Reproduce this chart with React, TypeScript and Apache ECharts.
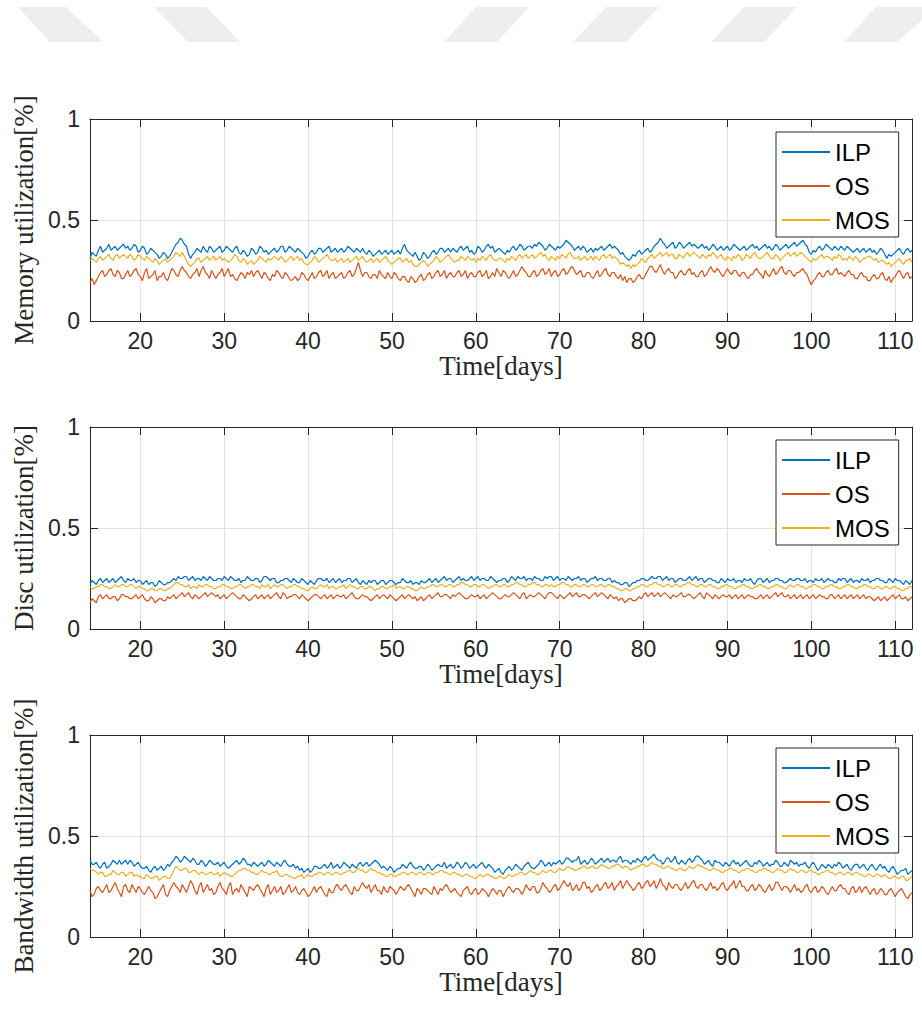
import React, { useEffect, useRef } from 'react';
import * as echarts from 'echarts';

// time axis: first sample and step (days); values are given in percent
const T0 = 14;
const DT = 0.25;
const PCT = 100;
const X_MIN = 14;
const X_MAX = 112;

const seriesNames = ['ILP', 'OS', 'MOS'];
const seriesColors = ['#0072BD', '#D95319', '#EDB120'];
const yTitles = ['Memory utilization[%]', 'Disc utilization[%]', 'Bandwidth utilization[%]'];
const xTitle = 'Time[days]';

// ---- Memory utilization (percent) ----
const memIlp = [
  31,34,33,32,35,37,34,35,36,38,35,36,37,35,36,37,38,36,37,35,
  36,38,37,34,35,37,36,33,34,36,35,34,33,31,32,34,33,31,32,34,
  36,38,39,41,40,38,37,33,31,33,34,36,35,34,37,35,34,37,36,34,
  35,36,37,34,35,37,36,35,34,36,37,34,33,35,34,32,33,36,35,33,
  34,37,36,34,35,33,34,35,36,34,35,37,37,34,35,37,36,35,34,36,
  35,34,33,31,32,34,35,33,34,36,36,34,35,36,37,34,35,36,34,35,
  36,34,35,37,36,35,34,36,35,34,36,34,33,35,34,32,33,34,35,33,
  34,35,33,34,35,33,34,35,33,36,38,35,34,33,32,34,32,30,31,34,
  33,31,32,34,35,33,34,36,36,34,35,36,34,36,35,34,36,37,35,36,
  37,34,35,33,34,37,36,34,35,37,38,36,37,34,35,36,35,34,33,35,
  34,36,37,35,36,38,37,35,36,37,37,36,38,37,39,38,37,35,36,38,
  37,36,35,37,36,37,38,40,39,38,37,35,36,37,35,37,36,34,35,36,
  34,36,35,36,37,35,36,37,38,36,37,36,35,33,34,32,31,30,31,33,
  32,34,35,33,34,35,36,34,35,37,38,39,41,39,38,36,37,38,39,36,
  37,39,38,36,37,38,39,37,38,37,36,37,38,36,37,35,36,38,37,35,
  36,37,35,36,37,35,36,38,37,36,35,36,37,35,36,37,38,36,37,35,
  36,37,38,36,37,35,36,38,37,35,36,37,38,36,37,38,39,37,38,39,
  40,38,37,34,33,35,34,36,37,35,36,38,37,36,35,37,36,35,37,36,
  35,37,36,35,34,35,36,34,35,36,34,35,36,34,35,33,34,36,35,33,
  31,33,32,33,34,35,36,34,33,35,36,34,35,
];
const memOs = [
  19,21,18,20,22,24,25,22,23,25,26,23,22,25,24,21,21,23,25,22,
  23,25,26,23,22,20,24,26,21,22,23,25,20,22,22,24,21,20,23,26,
  25,23,22,25,27,25,24,22,21,23,24,26,22,25,27,24,23,21,25,23,
  21,23,24,26,22,24,26,22,23,21,20,22,24,23,21,24,23,25,22,24,
  25,23,21,24,23,21,20,23,22,25,24,22,21,24,23,21,20,21,22,20,
  21,24,23,21,20,22,24,21,22,24,25,22,23,25,21,23,24,21,22,23,
  24,21,22,24,25,22,23,26,29,25,22,24,24,22,21,23,23,21,25,23,
  22,21,24,22,21,24,23,21,20,22,22,20,19,22,21,19,20,22,23,20,
  21,23,24,21,22,24,25,22,23,25,21,23,24,22,22,24,25,22,23,25,
  21,23,24,22,22,24,25,22,23,25,21,22,24,22,26,24,22,25,24,22,
  21,23,25,22,23,25,27,25,24,22,22,24,25,22,23,25,26,23,24,26,
  22,24,25,22,23,25,26,23,24,26,27,25,23,24,25,22,22,24,24,22,
  21,23,25,22,23,25,26,23,22,24,24,22,21,23,20,22,19,21,21,19,
  20,22,23,21,21,23,25,27,27,25,24,26,28,25,23,25,26,24,24,21,
  22,24,25,23,23,25,26,23,24,22,22,24,25,22,23,25,27,25,24,26,
  25,23,22,24,26,24,23,25,25,23,22,24,24,22,21,23,23,25,26,24,
  23,21,25,23,22,24,26,23,24,26,27,24,23,25,25,23,22,24,24,25,
  26,24,23,20,18,20,21,23,24,22,22,24,25,23,23,25,26,23,24,23,
  22,24,25,23,23,21,21,23,24,22,22,20,20,22,23,21,21,23,24,21,
  20,22,19,21,22,24,25,23,21,23,24,21,22,
];
const memMos = [
  30,31,30,29,31,32,30,31,32,33,31,30,32,33,31,32,33,32,31,33,
  32,30,31,33,32,31,30,32,31,30,29,31,30,28,29,30,31,29,30,31,
  32,34,33,32,34,32,30,28,27,28,29,31,31,29,30,31,32,30,31,32,
  30,31,32,30,31,30,29,30,31,33,32,30,29,31,30,28,29,30,28,29,
  30,32,31,30,29,31,30,31,32,31,30,32,31,29,30,31,32,30,31,32,
  30,31,29,28,28,29,30,32,31,29,30,31,32,33,31,30,30,31,29,30,
  31,29,30,31,29,30,31,32,30,31,32,30,29,30,31,29,30,31,29,30,
  31,32,30,29,28,29,30,31,31,29,30,31,29,30,28,27,27,28,29,30,
  29,27,28,29,30,32,31,29,30,31,32,33,31,30,29,30,30,32,31,30,
  32,31,30,31,29,31,30,32,31,30,32,33,31,30,30,31,31,30,29,31,
  30,32,31,30,32,33,31,32,33,31,32,33,31,32,33,34,32,33,31,30,
  32,31,30,32,31,33,32,31,33,34,32,31,31,32,30,31,32,30,31,32,
  30,32,31,30,32,33,31,32,33,31,32,31,30,28,29,28,27,28,26,28,
  27,28,29,31,30,29,31,32,33,31,32,33,34,32,33,34,32,33,33,31,
  31,33,32,31,33,34,32,33,34,33,32,31,33,32,31,33,32,34,33,31,
  32,33,31,30,32,31,30,32,31,33,32,30,31,33,32,31,33,34,32,31,
  31,32,33,34,32,31,31,33,32,30,31,32,33,34,32,33,34,32,33,34,
  33,32,31,30,29,31,30,31,32,33,31,32,32,31,30,32,31,33,32,30,
  31,30,32,31,30,32,31,29,30,31,31,32,32,31,30,31,29,30,30,29,
  28,29,27,28,29,30,31,29,28,30,30,31,29,
];

// ---- Disc utilization (percent) ----
const discIlp = [
  22,24,23,22,24,25,23,24,25,23,24,25,23,24,25,26,24,23,25,24,
  24,25,23,24,24,22,23,24,22,23,23,21,22,24,23,22,22,23,23,24,
  25,24,26,25,25,26,26,24,25,26,24,25,25,24,26,25,24,26,25,24,
  24,25,25,24,26,25,24,26,25,24,24,25,23,24,24,26,25,24,24,25,
  25,23,24,26,26,25,24,25,25,23,23,24,24,25,25,24,23,25,24,23,
  23,25,24,23,22,24,23,22,24,25,25,24,24,25,23,24,25,23,24,25,
  23,24,24,25,25,23,24,25,23,22,24,23,22,24,23,24,24,22,23,24,
  24,22,23,24,24,23,22,23,23,25,24,23,23,24,22,23,23,22,24,23,
  23,24,25,23,24,25,23,24,25,26,24,25,25,23,24,25,26,24,25,24,
  24,25,26,24,25,26,24,25,25,24,24,26,25,24,23,24,24,25,25,23,
  24,26,25,24,26,25,25,26,24,25,25,24,26,25,25,24,24,26,25,26,
  26,24,25,26,24,25,25,24,26,25,24,25,25,26,24,25,25,23,24,25,
  25,26,24,25,25,24,24,25,25,23,24,23,23,22,22,23,23,21,22,23,
  23,24,24,25,25,24,24,25,26,25,25,26,26,24,25,26,24,25,25,23,
  24,25,25,24,24,25,26,24,25,26,24,25,25,23,24,25,25,24,24,23,
  23,25,24,23,25,24,24,25,23,24,24,23,25,24,24,25,23,22,24,25,
  25,23,24,25,23,24,24,25,25,24,24,23,23,24,25,24,24,25,25,24,
  24,25,23,24,24,23,25,24,24,25,23,24,25,24,24,23,23,25,24,25,
  25,23,24,25,23,24,24,23,25,24,24,25,23,24,24,25,25,24,24,23,
  23,25,24,23,25,24,24,23,22,24,23,22,24,
];
const discOs = [
  13,15,14,13,16,17,15,16,17,15,15,16,16,14,15,17,17,16,16,15,
  15,16,17,15,16,17,15,14,14,16,15,13,14,15,15,14,14,16,15,16,
  17,15,16,17,18,16,17,18,16,15,17,16,15,16,17,18,16,17,18,17,
  16,17,15,16,17,15,16,17,18,17,16,15,15,17,16,15,14,15,16,17,
  15,16,17,15,16,17,15,16,17,18,16,15,18,17,15,16,16,17,17,16,
  15,17,16,15,14,15,16,17,17,16,15,16,17,15,16,17,15,16,17,16,
  16,17,15,16,17,18,16,15,15,16,17,16,16,15,14,15,16,17,15,16,
  17,16,15,17,16,15,14,15,16,17,15,16,17,16,15,16,14,15,16,14,
  15,16,17,15,16,17,18,16,16,17,17,16,15,17,16,17,18,17,16,15,
  15,16,17,16,16,17,15,16,17,15,16,17,18,17,16,15,15,16,17,16,
  16,17,18,17,16,15,17,18,15,16,17,16,16,17,18,17,16,15,17,18,
  18,17,16,15,17,16,15,16,17,18,16,17,18,16,16,17,17,16,15,16,
  17,18,16,17,18,17,16,15,17,16,15,16,14,15,15,13,14,15,15,14,
  14,15,16,15,17,18,16,17,18,16,17,18,16,17,18,17,16,15,17,16,
  16,17,18,16,16,17,17,16,15,16,17,18,16,15,18,17,16,15,17,16,
  15,16,17,16,16,17,15,16,17,15,16,17,15,16,17,16,16,15,15,16,
  17,15,16,17,15,16,17,18,16,17,18,16,16,17,15,16,17,15,16,17,
  15,16,17,15,16,17,15,16,17,16,16,15,15,17,17,15,16,17,15,16,
  17,15,16,17,15,16,17,15,16,17,15,16,16,15,14,15,16,14,15,16,
  14,15,16,17,15,16,17,15,15,16,14,15,16,
];
const discMos = [
  21,20,20,21,21,22,22,21,21,20,20,21,22,21,21,22,22,21,21,22,
  22,21,20,21,21,20,20,19,19,20,20,19,19,20,20,19,19,20,20,21,
  22,23,23,22,22,21,21,22,20,21,21,20,22,21,21,22,22,21,21,20,
  20,21,21,22,22,21,21,20,20,21,21,22,22,21,20,21,21,22,22,21,
  21,20,22,21,21,22,20,21,22,21,21,22,22,21,20,21,21,22,22,21,
  21,20,20,19,19,20,21,20,20,21,22,21,21,22,20,21,21,20,20,21,
  21,22,20,21,22,21,21,20,20,21,21,20,20,21,21,20,19,20,20,21,
  21,20,20,21,21,22,20,21,21,20,20,21,21,20,20,19,19,20,21,20,
  20,21,21,22,22,21,21,22,22,21,21,22,22,21,21,22,22,23,23,22,
  22,21,21,22,22,21,21,22,22,21,20,21,21,22,22,21,21,22,22,21,
  21,22,22,23,23,22,22,21,21,22,22,23,23,22,22,21,21,22,22,21,
  22,21,21,22,22,23,23,22,22,21,21,22,22,21,21,22,22,21,21,22,
  22,21,21,22,22,21,21,22,22,21,21,20,20,19,19,20,20,19,19,20,
  20,21,21,22,22,21,21,22,22,23,23,22,22,21,21,22,22,21,21,22,
  22,21,21,22,22,23,23,22,22,21,21,22,22,21,21,22,22,21,21,20,
  20,21,21,22,22,21,21,20,20,21,21,22,22,21,21,20,20,21,21,22,
  22,21,21,20,20,21,21,22,22,21,21,20,20,21,22,21,21,22,22,21,
  21,20,20,21,21,22,22,21,21,20,20,21,21,22,22,21,21,20,20,21,
  21,22,22,21,21,20,20,21,21,22,22,21,21,20,20,21,21,20,20,21,
  21,20,20,21,21,20,20,19,19,20,20,21,21,
];

// ---- Bandwidth utilization (percent) ----
const bwIlp = [
  38,36,36,37,35,34,36,37,34,35,36,38,37,36,38,36,37,38,36,38,
  37,35,36,37,35,34,34,35,33,32,34,35,33,34,35,33,34,36,35,37,
  38,40,39,37,38,40,39,38,37,39,38,36,36,38,37,35,36,38,37,36,
  36,37,35,36,37,35,34,35,36,37,38,36,37,39,38,36,36,35,37,36,
  35,36,37,35,36,38,37,36,35,37,36,35,37,38,36,35,35,36,34,35,
  33,34,32,33,34,32,33,35,35,34,34,35,36,34,35,37,34,35,36,34,
  35,37,36,35,34,36,35,34,36,37,35,36,37,35,36,37,38,37,36,34,
  35,34,33,35,34,32,33,34,34,36,35,34,36,37,35,34,34,35,35,33,
  34,36,35,33,34,35,36,35,35,37,34,35,36,34,35,37,36,34,35,37,
  36,34,35,36,34,35,36,37,35,34,36,35,34,32,33,34,32,31,33,34,
  35,33,34,36,35,34,33,35,36,37,35,34,34,35,36,38,37,35,36,37,
  35,37,36,37,38,36,37,39,39,38,37,38,38,40,36,37,38,36,37,39,
  38,36,37,38,39,37,38,39,37,38,38,37,39,40,37,38,38,37,36,38,
  37,39,38,37,39,40,38,39,40,41,39,38,38,36,37,39,39,37,38,40,
  37,36,38,37,36,38,39,37,38,40,40,39,38,36,37,38,36,35,38,37,
  37,36,35,37,36,35,37,38,36,37,35,36,37,38,36,35,35,37,36,38,
  37,35,36,37,35,36,36,38,37,35,35,37,36,35,38,37,36,37,35,36,
  36,37,35,34,36,37,35,33,34,36,35,34,36,35,34,36,35,37,36,34,
  35,36,34,33,35,36,36,34,35,36,34,33,35,36,34,33,35,36,34,35,
  33,32,34,35,33,31,32,33,33,34,31,32,33,
];
const bwOs = [
  23,20,21,24,25,23,22,24,26,22,23,25,27,24,22,20,25,26,23,22,
  26,24,22,25,24,22,21,23,25,23,22,19,20,22,24,26,21,20,23,25,
  27,25,24,22,26,24,22,25,28,26,23,21,25,27,22,24,26,23,24,21,
  22,25,27,24,23,21,25,27,21,23,24,22,26,24,22,20,25,24,23,25,
  26,24,22,20,24,26,21,23,25,22,23,25,21,22,24,26,22,23,25,22,
  21,23,24,22,20,21,23,25,22,24,25,23,21,20,24,22,22,25,26,24,
  23,25,26,24,22,21,25,23,23,25,27,25,24,26,22,24,26,23,23,21,
  25,23,22,25,24,23,21,23,25,24,23,25,26,24,22,20,24,23,21,24,
  24,23,22,21,25,23,21,24,23,25,26,24,22,23,24,22,21,20,23,24,
  25,22,21,23,24,21,22,24,23,22,20,22,24,23,21,23,23,20,22,24,
  25,23,22,24,24,23,21,23,26,24,23,25,25,22,22,24,27,25,24,22,
  23,25,26,23,24,26,28,26,25,27,23,24,26,23,24,27,27,24,25,22,
  23,25,26,23,24,26,27,24,25,27,23,25,26,28,24,26,28,26,25,23,
  24,26,27,24,25,27,28,25,26,28,24,26,29,26,25,23,27,25,24,26,
  26,24,23,25,27,24,25,27,28,25,24,26,26,24,23,25,27,24,25,23,
  24,26,27,24,23,25,26,28,24,26,28,25,25,23,23,25,26,23,24,26,
  25,23,22,24,26,23,24,27,27,25,23,25,25,24,22,24,26,23,24,22,
  23,25,26,23,22,24,25,22,23,25,24,22,21,23,25,23,23,25,26,24,
  24,22,21,24,25,22,23,25,22,24,25,23,21,23,24,21,22,24,23,21,
  21,23,24,22,20,22,23,24,22,20,19,21,22,
];
const bwMos = [
  34,33,33,32,31,32,32,30,30,31,31,33,32,31,31,32,32,30,31,32,
  32,30,31,30,30,29,29,31,30,29,29,30,30,28,29,30,30,29,29,31,
  33,35,34,33,33,34,34,32,32,33,33,32,31,32,32,31,31,32,32,31,
  31,32,30,31,32,31,31,30,30,31,32,33,33,34,34,33,33,32,32,31,
  31,32,33,32,32,31,31,32,32,33,31,30,30,31,31,30,30,29,29,30,
  30,31,29,30,31,30,30,31,31,32,32,31,31,32,32,31,31,32,32,31,
  31,32,32,33,33,32,32,33,34,33,33,32,32,33,34,33,33,32,32,31,
  31,30,30,31,31,30,30,31,31,32,32,31,31,32,32,31,31,32,32,31,
  31,32,32,31,31,32,32,33,33,32,32,31,31,32,32,31,31,30,30,31,
  31,30,30,29,29,30,31,30,30,31,31,30,30,29,29,30,30,29,29,30,
  31,30,30,31,31,32,32,31,31,32,33,32,32,31,31,32,33,32,32,33,
  33,32,32,33,34,33,33,34,35,34,34,33,33,34,34,35,35,34,34,35,
  35,34,34,35,36,35,35,34,34,35,35,36,36,35,34,35,35,34,33,34,
  34,35,35,36,36,35,35,36,37,36,36,35,35,34,34,35,35,34,34,33,
  33,34,34,33,33,34,35,34,34,35,36,35,35,34,34,33,33,34,34,33,
  33,32,32,33,33,34,34,33,33,32,32,33,33,34,34,33,33,32,32,33,
  33,34,34,33,33,32,32,33,34,33,33,32,32,33,34,33,33,32,32,33,
  33,32,32,33,33,32,32,31,31,32,32,33,33,32,32,31,31,32,32,31,
  31,32,32,31,31,32,32,31,31,30,30,31,31,30,30,31,31,30,30,31,
  30,29,29,30,30,29,29,30,30,28,28,29,30,
];

const panels = [
  [memIlp, memOs, memMos],
  [discIlp, discOs, discMos],
  [bwIlp, bwOs, bwMos],
];

const AXIS_COLOR = '#262626';
const GRID_COLOR = '#e2e2e2';
const SANS = 'Liberation Sans, Arial, sans-serif';
const SERIF = 'Liberation Serif, Times New Roman, serif';

const toPoints = (vals: number[]) => vals.map((v, i) => [T0 + i * DT, v / PCT]);

export default function App() {
  const ref = useRef<HTMLDivElement>(null);

  useEffect(() => {
    document.body.style.margin = '0';
    if (!ref.current) return;
    const chart = echarts.init(ref.current, undefined, { renderer: 'svg' });

    const tops = [119, 427, 735];
    const gridLeft = 90;
    const gridWidth = 822;
    const gridHeight = 202;

    const grid: any[] = [];
    const xAxis: any[] = [];
    const yAxis: any[] = [];
    const series: any[] = [];
    const legend: any[] = [];

    const boxLine = { show: true, onZero: false, lineStyle: { color: AXIS_COLOR, width: 1 } };
    const inTick = { show: true, inside: true, length: 8, lineStyle: { color: AXIS_COLOR, width: 1 } };

    tops.forEach((top, p) => {
      grid.push({ left: gridLeft, top, width: gridWidth, height: gridHeight, containLabel: false });
      xAxis.push({
        gridIndex: p,
        type: 'value',
        position: 'bottom',
        min: X_MIN,
        max: X_MAX,
        minInterval: 10,
        maxInterval: 10,
        name: xTitle,
        nameLocation: 'middle',
        nameGap: 24,
        nameTextStyle: { fontFamily: SERIF, fontSize: 27, color: AXIS_COLOR },
        axisLine: boxLine,
        axisTick: inTick,
        axisLabel: {
          show: true,
          margin: 8,
          fontFamily: SANS,
          fontSize: 23,
          color: AXIS_COLOR,
          formatter: (v: number) => (v % 10 === 0 && v >= 20 && v <= 110 ? String(v) : ''),
        },
        splitLine: { show: true, lineStyle: { color: GRID_COLOR, width: 1 } },
      });
      xAxis.push({
        gridIndex: p,
        type: 'value',
        position: 'top',
        min: X_MIN,
        max: X_MAX,
        minInterval: 10,
        maxInterval: 10,
        axisLine: boxLine,
        axisTick: inTick,
        axisLabel: { show: false },
        splitLine: { show: false },
      });
      yAxis.push({
        gridIndex: p,
        type: 'value',
        position: 'left',
        min: 0,
        max: 1,
        interval: 0.5,
        name: yTitles[p],
        nameLocation: 'middle',
        nameGap: 51,
        nameRotate: 90,
        nameTextStyle: { fontFamily: SERIF, fontSize: 27, color: AXIS_COLOR },
        axisLine: boxLine,
        axisTick: inTick,
        axisLabel: { show: true, margin: 10, fontFamily: SANS, fontSize: 23, color: AXIS_COLOR },
        splitLine: { show: true, lineStyle: { color: GRID_COLOR, width: 1 } },
      });
      yAxis.push({
        gridIndex: p,
        type: 'value',
        position: 'right',
        min: 0,
        max: 1,
        interval: 0.5,
        axisLine: boxLine,
        axisTick: inTick,
        axisLabel: { show: false },
        splitLine: { show: false },
      });

      panels[p].forEach((vals, s) => {
        series.push({
          type: 'line',
          name: seriesNames[s],
          xAxisIndex: p * 2,
          yAxisIndex: p * 2,
          data: toPoints(vals),
          symbol: 'none',
          showSymbol: false,
          silent: true,
          color: seriesColors[s],
          lineStyle: { color: seriesColors[s], width: 1.2 },
          z: 2 + s,
        });
      });

      legend.push({
        orient: 'vertical',
        left: 776,
        top: top + 13,
        data: seriesNames,
        itemWidth: 48,
        itemHeight: 14,
        itemGap: 10,
        padding: [8, 9, 5, 5],
        backgroundColor: '#ffffff',
        borderColor: AXIS_COLOR,
        borderWidth: 1,
        borderRadius: 0,
        selectedMode: false,
        itemStyle: { opacity: 0 },
        textStyle: { fontFamily: SANS, fontSize: 24, color: '#000000', lineHeight: 24 },
      });
    });

    const wm = (pts: number[][]) => ({
      type: 'polygon',
      shape: { points: pts },
      style: { fill: '#eeeeee' },
      silent: true,
      z: -1,
    });
    const graphic = [
      wm([[18, 7], [66, 7], [103, 42], [50, 42]]),
      wm([[154, 7], [206, 7], [240, 42], [188, 42]]),
      wm([[476, 7], [529, 7], [497, 42], [444, 42]]),
      wm([[606, 7], [659, 7], [626, 42], [573, 42]]),
      wm([[744, 7], [797, 7], [764, 42], [711, 42]]),
      wm([[876, 7], [922, 7], [922, 20], [897, 42], [844, 42]]),
    ];

    chart.setOption({
      animation: false,
      backgroundColor: '#ffffff',
      grid,
      xAxis,
      yAxis,
      series,
      legend,
      graphic,
    });

    return () => {
      chart.dispose();
    };
  }, []);

  return <div ref={ref} style={{ width: 922, height: 1011 }} />;
}
